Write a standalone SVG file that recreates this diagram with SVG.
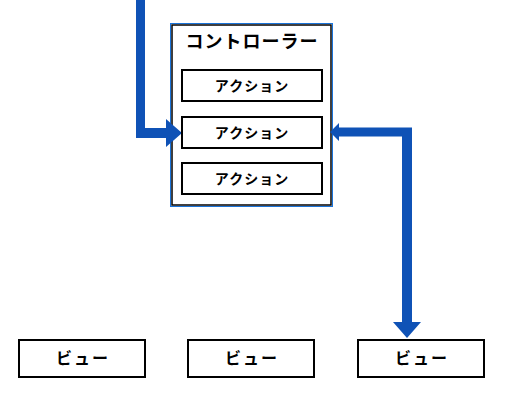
<svg xmlns="http://www.w3.org/2000/svg" width="506" height="402" viewBox="0 0 506 402">
<style>
.box{fill:#ffffff;stroke:#000000;stroke-width:2}
.t{font-family:"Noto Sans CJK JP","Noto Sans",sans-serif;font-weight:bold;fill:#000000;text-anchor:middle}
.arrow{fill:#0f52b6;stroke:none}
</style>
<rect width="506" height="402" fill="#ffffff"/>
<g id="controller">
<rect x="170.5" y="23.5" width="162" height="183" fill="#ffffff" stroke="#1a73d9" stroke-width="1"/>
<rect x="172" y="25" width="159" height="180" fill="none" stroke="#000000" stroke-width="1.5"/>
<text class="t" x="252" y="48" font-size="18" letter-spacing="1">コントローラー</text>
</g>
<g id="connectors">
<path class="arrow" d="M136,0 H145 V128 H166 V119 L182,133 L166,147 V138 H136 Z"/>
<path class="arrow" d="M330,132 L339,123 V127.5 H412 V322 H421 L407,338 L393,322 H402 V136.5 H339 V141 Z"/>
</g>
<g id="action1">
<rect class="box" x="182" y="70" width="140" height="31"/>
<text class="t" x="252" y="91" font-size="14" letter-spacing="1">アクション</text>
</g>
<g id="action2">
<rect class="box" x="182" y="117" width="140" height="31"/>
<text class="t" x="252" y="138" font-size="14" letter-spacing="1">アクション</text>
</g>
<g id="action3">
<rect class="box" x="182" y="163" width="140" height="31"/>
<text class="t" x="252" y="184" font-size="14" letter-spacing="1">アクション</text>
</g>
<g id="view1">
<rect class="box" x="19" y="340" width="126" height="37"/>
<text class="t" x="83" y="364" font-size="16" letter-spacing="2">ビュー</text>
</g>
<g id="view2">
<rect class="box" x="188" y="340" width="126" height="37"/>
<text class="t" x="252" y="364" font-size="16" letter-spacing="2">ビュー</text>
</g>
<g id="view3">
<rect class="box" x="358" y="340" width="126" height="37"/>
<text class="t" x="422" y="364" font-size="16" letter-spacing="2">ビュー</text>
</g>
</svg>
